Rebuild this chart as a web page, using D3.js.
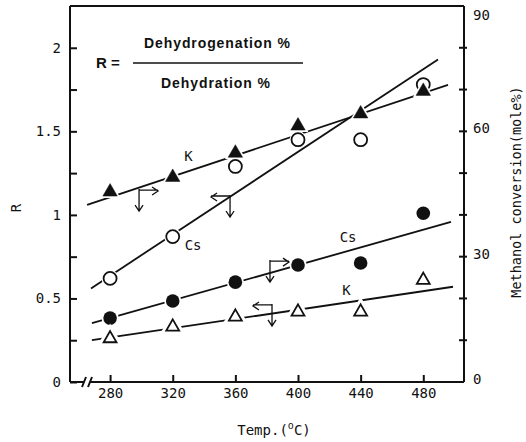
<!DOCTYPE html>
<html>
<head>
<meta charset="utf-8">
<script src="https://cdn.jsdelivr.net/npm/d3@7/dist/d3.min.js"></script>
<style>
	body {
		margin: 0;
		background: #fff;
	}

	svg {
		display: block;
	}

	text {
		font-family: "DejaVu Sans Mono", monospace;
		font-size: 14px;
		fill: #111;
	}

	text.formula {
		font-family: "Liberation Sans", Arial, sans-serif;
		font-weight: 700;
	}

	.axis path,
	.axis line,
	.frame {
		stroke: #111;
		stroke-width: 2;
		fill: none;
	}

	.fit {
		stroke: #111;
		stroke-width: 1.8;
		fill: none;
	}

	.arrow {
		stroke: #111;
		stroke-width: 1.3;
		fill: none;
	}
</style>
</head>
<body>
<div id="chart"></div>
<script>
// temperatures (°C)
const temps = [280, 320, 360, 400, 440, 480];

// methanol conversion (mole%), right axis
const convK = [45.5, 49, 54.8, 61.3, 64.2, 69.6];
const convCs = [15.3, 19.4, 23.9, 28, 28.5, 40.4];

// R = dehydrogenation / dehydration, left axis
const ratioCs = [0.62, 0.87, 1.29, 1.45, 1.45, 1.78];
const ratioK = [0.26, 0.33, 0.39, 0.42, 0.42, 0.61];

// fitted straight lines, [temp, value] at both ends
const fitConvK = [[265.3, 42.4], [495.8, 71.1]];
const fitRatioCs = [[267.8, 0.56], [489.4, 1.93]];
const fitConvCs = [[268.4, 14.1], [497.7, 38.3]];
const fitRatioK = [[268.4, 0.25], [499, 0.57]];

// tick labels
const leftTicks = [0, 0.5, 1, 1.5, 2];
const leftTickLabels = ["0", "0.5", "1", "1.5", "2"];
const rightTicks = [0, 30, 60, 90];

const W = 526;
const H = 442;
const mLeft = 70, mRight = 464, mTop = 6, mBottom = 382;

const svg = d3.select("#chart")
	.append("svg")
	.attr("width", W)
	.attr("height", H);

const x = d3.scaleLinear().domain([254.4, 506]).range([mLeft, mRight]);
const yL = d3.scaleLinear().domain([0, 2.25]).range([mBottom, mTop]);
const yR = d3.scaleLinear().domain([0, 90]).range([mBottom, mTop]);

// left axis
svg.append("g")
	.attr("class", "axis")
	.attr("transform", `translate(${mLeft},0)`)
	.call(d3.axisLeft(yL)
		.tickValues(d3.range(0, 2.01, 0.25))
		.tickSizeInner(-7)
		.tickSizeOuter(0)
		.tickPadding(9)
		.tickFormat(d => {
			const i = leftTicks.indexOf(d);
			return i >= 0 ? leftTickLabels[i] : "";
		}))
	.call(g => g.select(".domain").attr("d", `M0,${mBottom}V${mTop}`))
	.call(g => g.selectAll("text").style("font-size", "14px").attr("fill", "#111"));

// right axis (ticks drawn across the line)
const gR = svg.append("g").attr("class", "axis");
gR.append("line")
	.attr("x1", mRight).attr("x2", mRight)
	.attr("y1", mTop).attr("y2", mBottom);
gR.selectAll("line.tick")
	.data(d3.range(10, 81, 10))
	.join("line")
	.attr("class", "tick")
	.attr("x1", mRight - 5).attr("x2", mRight + 3)
	.attr("y1", d => yR(d)).attr("y2", d => yR(d));
gR.selectAll("text")
	.data(rightTicks)
	.join("text")
	.attr("x", mRight + 9)
	.attr("y", d => Math.max(yR(d) - 3, mTop + 9))
	.attr("dy", "0.35em")
	.text(d => d);

// bottom axis with break
const gB = svg.append("g")
	.attr("class", "axis")
	.attr("transform", `translate(0,${mBottom})`)
	.call(d3.axisBottom(x)
		.tickValues(temps)
		.tickSizeInner(-7)
		.tickSizeOuter(0)
		.tickPadding(6))
	.call(g => g.select(".domain").attr("d", `M${mLeft},0H84M90,0H${mRight}`))
	.call(g => g.selectAll("text").style("font-size", "14px").attr("fill", "#111"));
gB.append("path")
	.attr("d", "M82,5L86,-5M88,5L92,-5")
	.attr("stroke", "#111")
	.attr("stroke-width", 1.6)
	.attr("fill", "none");

// top frame
svg.append("line")
	.attr("class", "frame")
	.attr("x1", mLeft).attr("x2", mRight)
	.attr("y1", mTop).attr("y2", mTop);

// fitted lines
const fits = [
	{ pts: fitConvK, y: yR },
	{ pts: fitRatioCs, y: yL },
	{ pts: fitConvCs, y: yR },
	{ pts: fitRatioK, y: yL }
];
svg.selectAll("line.fit")
	.data(fits)
	.join("line")
	.attr("class", "fit")
	.attr("x1", d => x(d.pts[0][0]))
	.attr("y1", d => d.y(d.pts[0][1]))
	.attr("x2", d => x(d.pts[1][0]))
	.attr("y2", d => d.y(d.pts[1][1]));

// markers (filled triangles last so they sit over the open circles)
const tri = d3.symbol().type(d3.symbolTriangle);
const series = [
	{ vals: ratioCs, y: yL, shape: "circle", filled: false },
	{ vals: convCs, y: yR, shape: "circle", filled: true },
	{ vals: ratioK, y: yL, shape: "tri", filled: false },
	{ vals: convK, y: yR, shape: "tri", filled: true }
];

series.forEach(s => {
	const g = svg.append("g");
	const pts = temps.map((t, i) => [x(t), s.y(s.vals[i])]);
	if (s.shape === "circle") {
		g.selectAll("circle.halo")
			.data(pts)
			.join("circle")
			.attr("cx", d => d[0]).attr("cy", d => d[1])
			.attr("r", 8.5)
			.attr("fill", "#fff");
		g.selectAll("circle.mark")
			.data(pts)
			.join("circle")
			.attr("cx", d => d[0]).attr("cy", d => d[1])
			.attr("r", s.filled ? 6.8 : 6.5)
			.attr("fill", s.filled ? "#111" : "#fff")
			.attr("stroke", "#111")
			.attr("stroke-width", s.filled ? 0 : 1.8);
	} else {
		g.selectAll("path.halo")
			.data(pts)
			.join("path")
			.attr("transform", d => `translate(${d[0]},${d[1]})`)
			.attr("d", tri.size(s.filled ? 130 : 160))
			.attr("fill", "#fff")
			.attr("stroke", "#fff")
			.attr("stroke-width", s.filled ? 2 : 4);
		g.selectAll("path.mark")
			.data(pts)
			.join("path")
			.attr("transform", d => `translate(${d[0]},${d[1]})`)
			.attr("d", tri.size(s.filled ? 90 : 72))
			.attr("fill", s.filled ? "#111" : "#fff")
			.attr("stroke", "#111")
			.attr("stroke-width", s.filled ? 0.5 : 1.8);
	}
});

// series labels
const labels = [
	{ t: 330, v: 1.35, text: "K" },
	{ t: 333, v: 0.82, text: "Cs" },
	{ t: 432, v: 0.87, text: "Cs" },
	{ t: 431, v: 0.55, text: "K" }
];
svg.selectAll("text.series")
	.data(labels)
	.join("text")
	.attr("class", "series")
	.attr("x", d => x(d.t))
	.attr("y", d => yL(d.v))
	.attr("dy", "0.35em")
	.attr("text-anchor", "middle")
	.text(d => d.text);

// axis direction arrows: corner position and which way the horizontal points
const arrows = [
	{ t: 298.5, v: 45.7, y: yR, dir: 1 },
	{ t: 356.6, v: 1.107, y: yL, dir: -1 },
	{ t: 382.1, v: 28.7, y: yR, dir: 1 },
	{ t: 383.4, v: 0.455, y: yL, dir: -1 }
];
arrows.forEach(a => {
	const cx = x(a.t);
	const cy = a.y(a.v);
	const hx = cx + a.dir * 19;
	const vy = cy + 20;
	svg.append("path")
		.attr("class", "arrow")
		.attr("d",
			`M${cx},${cy - 1}H${hx}` +
			`M${hx - a.dir * 6},${cy - 4}L${hx},${cy}L${hx - a.dir * 6},${cy + 4}` +
			`M${cx},${cy - 2}V${vy}` +
			`M${cx - 4},${vy - 6}L${cx},${vy}L${cx + 4},${vy - 6}`);
});

// formula
svg.append("text")
	.attr("class", "formula")
	.attr("x", 96)
	.attr("y", 68)
	.style("font-size", "15px")
	.text("R =");
svg.append("line")
	.attr("x1", 133).attr("x2", 303)
	.attr("y1", 63).attr("y2", 63)
	.attr("stroke", "#111")
	.attr("stroke-width", 1.5);
svg.append("text")
	.attr("class", "formula")
	.attr("x", 144)
	.attr("y", 48)
	.attr("textLength", 146)
	.text("Dehydrogenation %");
svg.append("text")
	.attr("class", "formula")
	.attr("x", 161)
	.attr("y", 88)
	.attr("textLength", 109)
	.text("Dehydration %");

// axis titles
const xt = svg.append("text")
	.attr("x", (mLeft + mRight) / 2 + 7)
	.attr("y", 435)
	.attr("text-anchor", "middle");
xt.append("tspan").text("Temp.(");
xt.append("tspan").attr("dy", -6).style("font-size", "10px").text("o");
xt.append("tspan").attr("dy", 6).text("C)");

svg.append("text")
	.attr("transform", "translate(21,208) rotate(-90)")
	.attr("text-anchor", "middle")
	.text("R");

svg.append("text")
	.attr("transform", "translate(516,192) rotate(-90)")
	.attr("text-anchor", "middle")
	.attr("dy", "0.35em")
	.style("font-size", "13.5px")
	.text("Methanol conversion(mole%)");
</script>
</body>
</html>
